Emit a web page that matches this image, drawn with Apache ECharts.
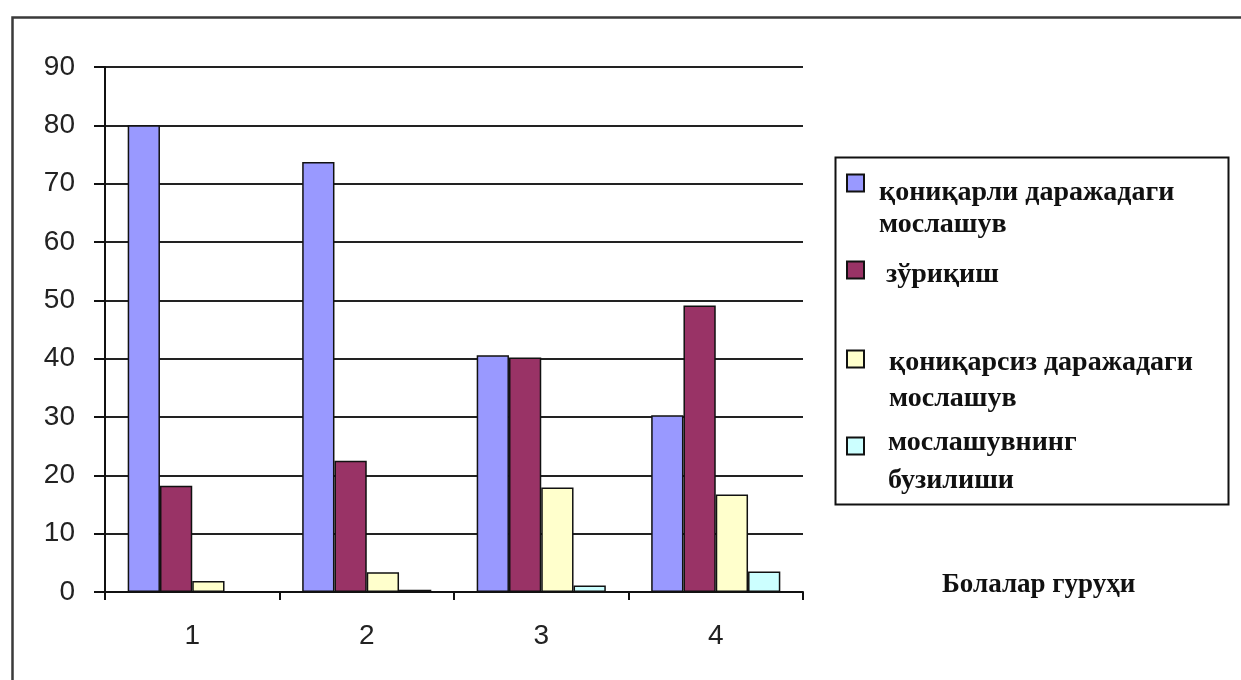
<!DOCTYPE html>
<html>
<head>
<meta charset="utf-8">
<script src="https://cdn.jsdelivr.net/npm/echarts@6/dist/echarts.min.js"></script>
<style>
  html, body { margin: 0; padding: 0; background: #fff; }
  #chart { width: 1241px; height: 680px; }
</style>
</head>
<body>
<div id="chart"></div>
<script>
// Groups of children and adaptation levels (per cent)
const categories = ['1', '2', '3', '4'];
const yTicks = [0, 10, 20, 30, 40, 50, 60, 70, 80, 90];

const seriesNames = [
  'қониқарли даражадаги\nмослашув',
  'зўриқиш',
  'қониқарсиз даражадаги\nмослашув',
  'мослашувнинг\nбузилиши'
];
const satisfactory = [80, 73.7, 40.6, 30.3];
const strain = [18.2, 22.5, 40.2, 49.1];
const unsatisfactory = [1.9, 3.4, 17.9, 16.7];
const disrupted = [0, 0.4, 1.1, 3.5];

const colors = ['#9999FF', '#993366', '#FFFFCC', '#CCFFFF'];
const values = [satisfactory, strain, unsatisfactory, disrupted];

const serifBold = { fontFamily: 'Liberation Serif', fontWeight: 'bold', color: '#111' };

// one legend block per series; an empty spacer line pushes the label
// down so its first line sits next to the swatch
const legendSpecs = [
  { top: 125, spacer: 52, indent: 10, lh: 32 },
  { top: 249, spacer: 10, indent: 17, lh: 32 },
  { top: 301, spacer: 44, indent: 20, lh: 36 },
  { top: 392, spacer: 32, indent: 19, lh: 38 }
];

const chart = echarts.init(document.getElementById('chart'), null, { renderer: 'canvas' });

chart.setOption({
  animation: false,
  backgroundColor: '#fff',
  title: {
    text: 'Болалар гуруҳи',
    left: 942,
    top: 569,
    padding: 0,
    textStyle: Object.assign({ fontSize: 27, lineHeight: 32 }, serifBold)
  },
  grid: { left: 105, right: 438, top: 67, bottom: 88 },
  xAxis: {
    type: 'category',
    data: categories,
    axisLine: { lineStyle: { color: '#111', width: 2 } },
    axisTick: { show: true, length: 8, lineStyle: { color: '#111', width: 2 } },
    axisLabel: { margin: 30, fontSize: 28, fontFamily: 'Liberation Sans', color: '#222' }
  },
  yAxis: {
    type: 'value',
    min: yTicks[0],
    max: yTicks[yTicks.length - 1],
    interval: 10,
    axisLine: { show: true, lineStyle: { color: '#111', width: 2 } },
    axisTick: { show: true, length: 11, lineStyle: { color: '#111', width: 2 } },
    axisLabel: { margin: 30, fontSize: 28, fontFamily: 'Liberation Sans', color: '#222' },
    splitLine: { lineStyle: { color: '#222', width: 2 } }
  },
  legend: legendSpecs.map((s, i) => ({
    data: [seriesNames[i]],
    left: 846,
    top: s.top,
    padding: 0,
    itemWidth: 17,
    itemHeight: 17,
    icon: 'rect',
    selectedMode: false,
    formatter: name => '{e| }\n' + name.split('\n').map(l => '{b|' + l + '}').join('\n'),
    textStyle: Object.assign({
      fontSize: 28,
      rich: {
        e: { fontSize: 8, lineHeight: s.spacer, height: s.spacer },
        b: Object.assign({ fontSize: 28, lineHeight: s.lh, padding: [0, 0, 0, s.indent] }, serifBold)
      }
    }, serifBold)
  })),
  graphic: [
    // outer frame (top and left edges visible)
    { type: 'rect', left: 10, top: 15, shape: { width: 1300, height: 720 },
      style: { fill: 'none', stroke: '#3a3a3a', lineWidth: 2.5 }, z: -1 },
    // legend frame
    { type: 'rect', left: 833, top: 155, shape: { width: 393, height: 347 },
      style: { fill: 'none', stroke: '#111', lineWidth: 2 }, z: -1 }
  ],
  series: values.map((v, i) => ({
    name: seriesNames[i],
    type: 'bar',
    data: v,
    barGap: '0%',
    barCategoryGap: '26%',
    itemStyle: { color: colors[i], borderColor: '#111', borderWidth: 1.5 }
  }))
});
</script>
</body>
</html>
